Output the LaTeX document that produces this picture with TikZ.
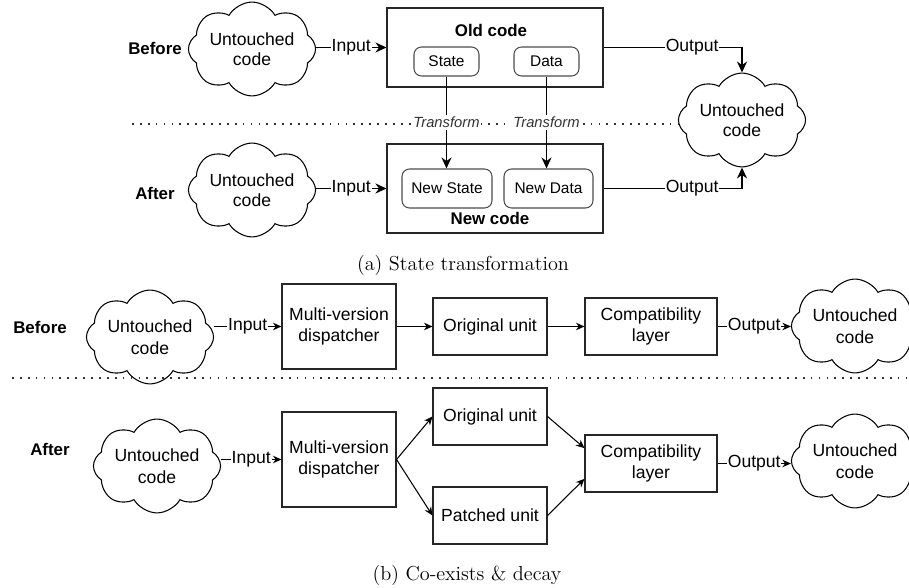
\documentclass[tikz,border=0pt]{standalone}
\usepackage{fontspec}
\setsansfont{Liberation Sans}
\usetikzlibrary{shapes.symbols,arrows.meta}

\tikzset{
	txt/.style={font=\sffamily\fontsize{10}{11.5}\selectfont, align=center},
	cloudnode/.style={cloud, draw, line width=0.6pt, cloud puffs=8, cloud puff arc=120, aspect=1.65, inner sep=0pt, txt},
	unitbox/.style={draw=black!85, line width=0.6pt, inner sep=0pt, txt},
	rbox/.style={draw=black!70, rounded corners=0.15cm, line width=0.6pt, inner sep=0pt, font=\sffamily\fontsize{8.8}{10}\selectfont},
	sidelbl/.style={font=\sffamily\bfseries\fontsize{9.6}{11}\selectfont},
	lbl/.style={fill=white, inner sep=0.5pt, txt},
	trlbl/.style={fill=white, inner sep=1pt, font=\sffamily\itshape\fontsize{8.4}{9}\selectfont, text=black!80},
	bigarrow/.style={line width=1.1pt, -{Stealth[length=0.22cm, width=0.2cm]}},
	smallarrow/.style={line width=0.6pt, -{Stealth[length=0.17cm, width=0.15cm]}},
	divider/.style={line width=1pt, dash pattern=on 1pt off 3.5pt, black!80},
	capt/.style={font=\fontsize{11.5}{13}\selectfont}
}

\begin{document}
\begin{tikzpicture}
	\useasboundingbox (0,0) rectangle (18.18,-11.76);
	\node[sidelbl] at (3.10,-0.96) (befA) {Before};
	\node[sidelbl] at (3.10,-3.86) (aftA) {After};
	\node[cloudnode, minimum width=2.40cm, minimum height=1.56cm] at (5.04,-0.98) (srcA1) {Untouched\\code};
	\node[cloudnode, minimum width=2.40cm, minimum height=1.56cm] at (5.04,-3.80) (srcA2) {Untouched\\code};
	\node[unitbox, minimum width=4.32cm, minimum height=1.58cm] at (9.90,-0.95) (old) {};
	\node[unitbox, minimum width=4.32cm, minimum height=1.78cm] at (9.90,-3.77) (new) {};
	\node[sidelbl] at (9.82,-0.60) (oldlbl) {Old code};
	\node[sidelbl] at (9.80,-4.36) (newlbl) {New code};
	\node[rbox, minimum width=1.30cm, minimum height=0.58cm] at (8.93,-1.23) (state) {State};
	\node[rbox, minimum width=1.30cm, minimum height=0.58cm] at (10.93,-1.23) (data) {Data};
	\node[rbox, minimum width=1.80cm, minimum height=0.78cm] at (8.94,-3.77) (newstate) {New State};
	\node[rbox, minimum width=1.78cm, minimum height=0.78cm] at (10.97,-3.77) (newdata) {New Data};
	\node[cloudnode, minimum width=2.46cm, minimum height=1.46cm] at (14.84,-2.40) (dstA) {Untouched\\code};
	\coordinate (divAl) at (2.64,-2.48);
	\coordinate (divAr) at (13.62,-2.48);
	\draw[divider] (divAl) -- (divAr);
	\draw[bigarrow] (old.west -| srcA1.east) -- node[lbl]{Input} (old.west);
	\draw[bigarrow] (new.west -| srcA2.east) -- node[lbl]{Input} (new.west);
	\draw[bigarrow] (state.south) -- node[trlbl]{Transform} (state.south |- newstate.north);
	\draw[bigarrow] (data.south) -- node[trlbl]{Transform} (data.south |- newdata.north);
	\draw[bigarrow] (old.east) -| node[lbl, pos=0.32]{Output} (dstA.north);
	\draw[bigarrow] (new.east) -| node[lbl, pos=0.32]{Output} (dstA.south);
	\node[capt] at (9.26,-5.30) (capA) {(a) State transformation};

	\node[sidelbl] at (0.80,-6.54) (befB) {Before};
	\node[sidelbl] at (1.00,-8.98) (aftB) {After};
	\node[cloudnode, minimum width=2.40cm, minimum height=1.42cm] at (3.00,-6.74) (srcB1) {Untouched\\[1pt]code};
	\node[cloudnode, minimum width=2.40cm, minimum height=1.48cm] at (3.14,-9.32) (srcB2) {Untouched\\[1pt]code};
	\node[unitbox, minimum width=2.28cm, minimum height=1.70cm] at (6.78,-6.53) (dispB1) {Multi-version\\dispatcher};
	\node[unitbox, minimum width=2.28cm, minimum height=1.14cm] at (9.80,-6.53) (origB1) {Original unit};
	\node[unitbox, minimum width=2.64cm, minimum height=1.14cm] at (13.02,-6.53) (compB1) {Compatibility\\layer};
	\node[cloudnode, minimum width=2.30cm, minimum height=1.46cm] at (17.10,-6.52) (dstB1) {Untouched\\[1pt]code};
	\coordinate (divBl) at (0.24,-7.56);
	\coordinate (divBr) at (18.18,-7.56);
	\draw[divider] (divBl) -- (divBr);
	\node[unitbox, minimum width=2.28cm, minimum height=1.90cm] at (6.78,-9.19) (dispB2) {Multi-version\\dispatcher};
	\node[unitbox, minimum width=2.28cm, minimum height=1.14cm] at (9.80,-8.33) (origB2) {Original unit};
	\node[unitbox, minimum width=2.28cm, minimum height=1.14cm] at (9.80,-10.31) (patchB2) {Patched unit};
	\node[unitbox, minimum width=2.64cm, minimum height=1.14cm] at (13.02,-9.27) (compB2) {Compatibility\\layer};
	\node[cloudnode, minimum width=2.30cm, minimum height=1.46cm] at (17.10,-9.22) (dstB2) {Untouched\\[1pt]code};
	\draw[smallarrow] (dispB1.west -| srcB1.east) -- node[lbl]{Input} (dispB1.west);
	\draw[smallarrow] (dispB1) -- (origB1);
	\draw[smallarrow] (origB1) -- (compB1);
	\draw[smallarrow] (compB1) -- node[lbl]{Output} (compB1.east -| dstB1.west);
	\draw[smallarrow] (dispB2.west -| srcB2.east) -- node[lbl]{Input} (dispB2.west);
	\draw[smallarrow] (dispB2.east) -- (origB2.west);
	\draw[smallarrow] (dispB2.east) -- (patchB2.west);
	\draw[smallarrow] (origB2.east) -- (compB2.167);
	\draw[smallarrow] (patchB2.east) -- (compB2.193);
	\draw[smallarrow] (compB2) -- node[lbl]{Output} (compB2.east -| dstB2.west);
	\node[capt] at (9.34,-11.50) (capB) {(b) Co-exists \& decay};
\end{tikzpicture}
\end{document}
